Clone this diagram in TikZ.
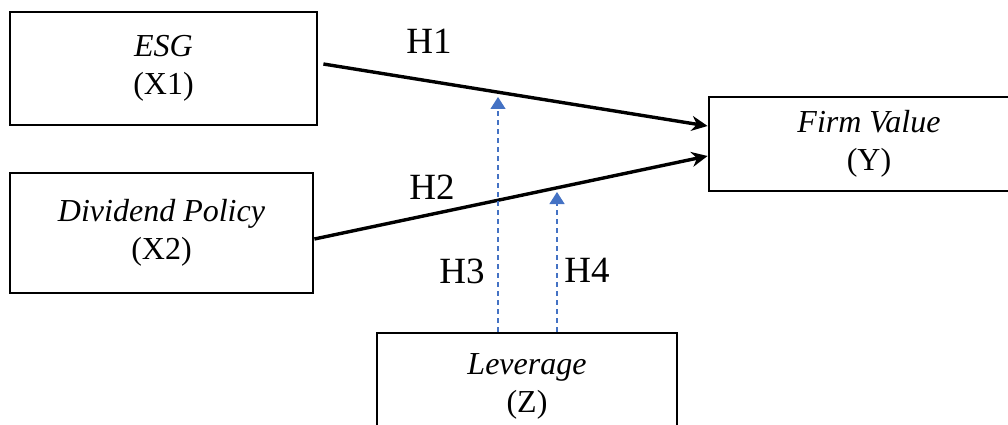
\documentclass[tikz,border=0pt]{standalone}
\usepackage{fontspec}
\setmainfont{Liberation Serif}
\usetikzlibrary{arrows.meta,calc}
\definecolor{dashblue}{HTML}{4472C4}
\begin{document}
\begin{tikzpicture}[x=1pt,y=-1pt,
  box/.style={draw=black,line width=2.8pt,inner sep=0pt,align=center,
    font=\fontsize{32}{38}\selectfont},
  hyp/.style={font=\fontsize{37}{40}\selectfont,inner sep=0pt},
  mainarrow/.style={line width=3.4pt,-{Stealth[length=16pt,width=15pt]}},
  modarrow/.style={draw=dashblue,line width=1.3pt,dash pattern=on 5pt off 4pt,
    -{Triangle[length=12pt,width=15pt,fill=dashblue]}}]
\useasboundingbox (0,0) rectangle (1008,425);
\node[box,minimum width=307pt,minimum height=113pt] (esg) at (163.5,68.5) {\textit{ESG}\\(X1)};
\node[box,minimum width=303pt,minimum height=120pt] (div) at (161.5,233) {\textit{Dividend Policy}\\(X2)};
\node[box,minimum width=320pt,minimum height=94pt] (firm) at (869,144) {\textit{Firm Value}\\(Y)};
\node[box,minimum width=300pt,minimum height=130pt,text depth=0pt] (lev) at (527,398) {};
\node[font=\fontsize{32}{38}\selectfont,align=center] (levt) at (527,386) {\textit{Leverage}\\(Z)};
\coordinate (t3) at (498,97);
\coordinate (t4) at (557,192);
\draw[mainarrow] ($(esg.east)+(5,-4.5)$) -- ($(firm.west)+(0,-18)$);
\draw[mainarrow] ($(div.east)+(0,6)$) -- ($(firm.west)+(0,12)$);
\draw[modarrow] (lev.north -| t3) -- (t3);
\draw[modarrow] (lev.north -| t4) -- (t4);
\node[hyp] (h1) at (429,41) {H1};
\node[hyp] (h2) at (432,187) {H2};
\node[hyp] (h3) at (462,271) {H3};
\node[hyp] (h4) at (587,270) {H4};
\end{tikzpicture}
\end{document}
